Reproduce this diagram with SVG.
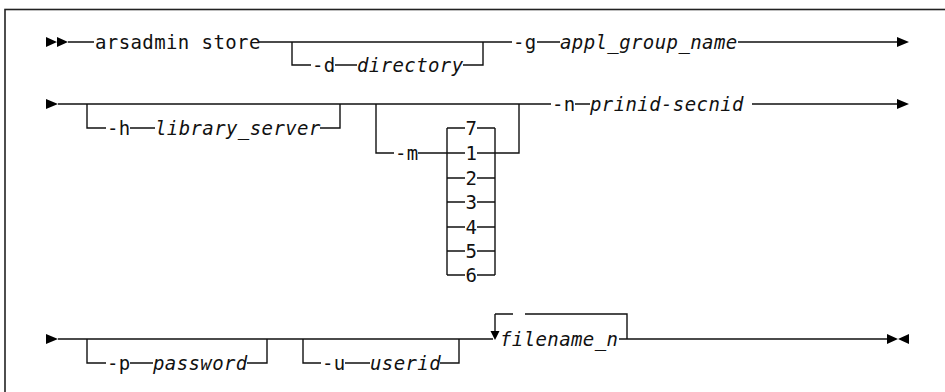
<svg xmlns="http://www.w3.org/2000/svg" width="945" height="392" viewBox="0 0 945 392">
<defs>
<style>
.ln{fill:none;stroke:#111;stroke-width:1.4}
.bd{fill:none;stroke:#222;stroke-width:1.6}
.ah{fill:#000}
text{font-family:"DejaVu Sans Mono","Liberation Mono",monospace;font-size:19px;fill:#111;letter-spacing:0.4px}
.v{font-style:italic}
</style>
</defs>
<rect class="bd" x="5" y="9.5" width="960" height="400"/>
<g id="connectors">
<!-- row 1 -->
<path class="ln" d="M68 42H94 M259 42H512 M280 42H292V65H311 M335 65H357 M463 65H483V42 M537 42H560 M738 42H897"/>
<!-- row 2 -->
<path class="ln" d="M58 104H551 M87 104V128H106 M130 128H155 M320 128H340V104 M376 104V153H394 M418 153H447 M447 128V275 M495 128V275 M495 153H519V104 M575 104H590 M752 104H897"/>
<path class="ln" d="M447 128H465 M477 128H495 M447 153H465 M477 153H495 M447 178H465 M477 178H495 M447 202H465 M477 202H495 M447 227H465 M477 227H495 M447 251H465 M477 251H495 M447 275H465 M477 275H495"/>
<!-- row 3 -->
<path class="ln" d="M58 339H493 M87 339V363H106 M130 363H153 M247 363H267V339 M303 339V363H321 M345 363H370 M440 363H459V339 M495 314V333 M495 314H513 M525 314H627V339 M619 339H887"/>
<!-- arrowheads -->
<path class="ah" d="M46 37L57 42L46 47Z M57 37L68 42L57 47Z M897 37L909 42L897 47Z M46 99L58 104L46 109Z M897 99L909 104L897 109Z M46 334L58 339L46 344Z M490.5 331H499.5L495 340Z M887 334L898 339L887 344Z M909 334L898 339L909 344Z"/>
</g>
<g id="n1"><text x="95" y="48.5">arsadmin store</text></g>
<g id="n2"><text x="312" y="71.5">-d</text><text class="v" x="357" y="71.5">directory</text></g>
<g id="n3"><text x="513" y="48.5">-g</text><text class="v" x="560" y="48.5">appl_group_name</text></g>
<g id="n4"><text x="107" y="134.5">-h</text><text class="v" x="155" y="134.5">library_server</text></g>
<g id="n5"><text x="395" y="159.5">-m</text></g>
<g id="n6">
<text x="465.5" y="135">7</text>
<text x="465.5" y="160">1</text>
<text x="465.5" y="185">2</text>
<text x="465.5" y="209">3</text>
<text x="465.5" y="234">4</text>
<text x="465.5" y="258">5</text>
<text x="465.5" y="282">6</text>
</g>
<g id="n7"><text x="552" y="110.5">-n</text><text class="v" x="590" y="110.5">prinid-secnid</text></g>
<g id="n8"><text x="107" y="369.5">-p</text><text class="v" x="153" y="369.5">password</text></g>
<g id="n9"><text x="322" y="369.5">-u</text><text class="v" x="370" y="369.5">userid</text></g>
<g id="n10"><text class="v" x="500" y="345.5">filename_n</text></g>
</svg>
